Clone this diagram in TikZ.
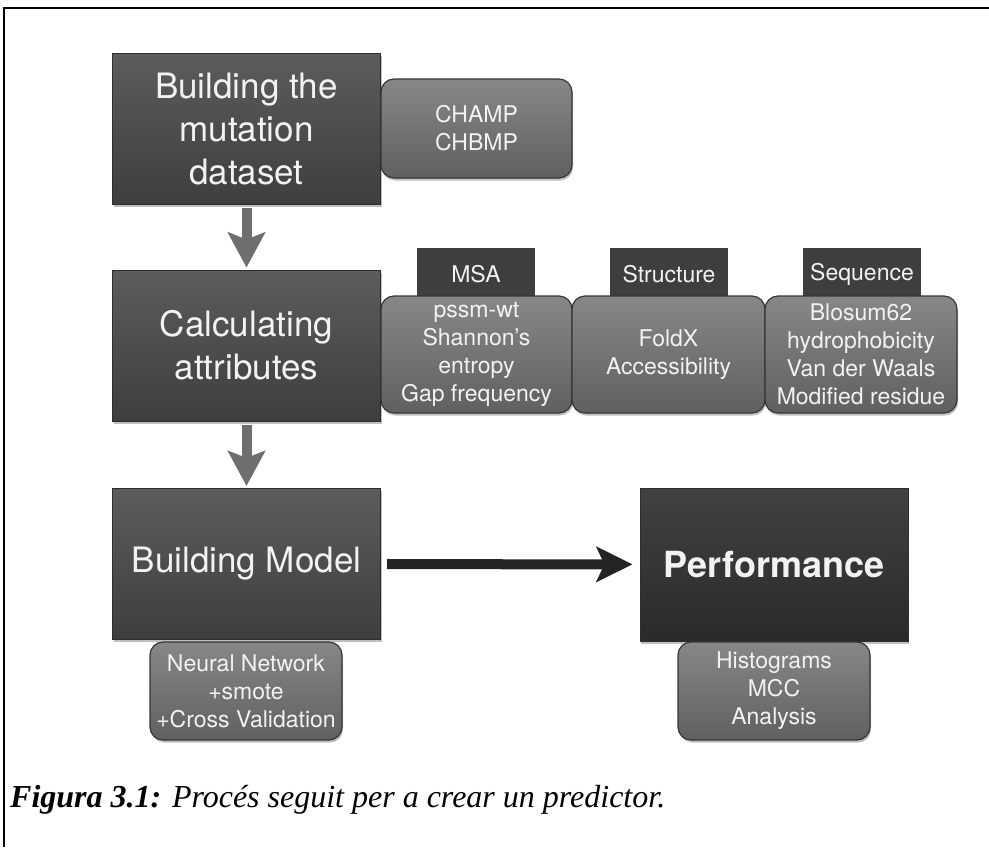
\documentclass[tikz,border=0pt]{standalone}
\usepackage{fontspec}
\setmainfont{TeX Gyre Heros}
\newfontfamily\captionfont{Liberation Serif}
\usetikzlibrary{arrows.meta,shadows}

\definecolor{stagetop}{HTML}{5C5C5C}
\definecolor{stagebottom}{HTML}{3E3E3E}
\definecolor{stageline}{HTML}{2E2E2E}
\definecolor{resulttop}{HTML}{414141}
\definecolor{resultbottom}{HTML}{2A2A2A}
\definecolor{detailtop}{HTML}{878787}
\definecolor{detailbottom}{HTML}{606060}
\definecolor{detailline}{HTML}{363636}
\definecolor{tabfill}{HTML}{3E3E3E}
\definecolor{flowgray}{HTML}{6E6E6E}
\definecolor{maindark}{HTML}{242424}
\definecolor{boxtext}{HTML}{F2F2F2}

\begin{document}
\begin{tikzpicture}[
    x=1pt, y=-1pt,
    every node/.style={align=center, inner sep=0pt, text=boxtext},
    soft shadow/.style={drop shadow={shadow xshift=1pt, shadow yshift=-2.5pt, opacity=0.25, fill=black}},
    stage/.style={draw=stageline, line width=1pt, top color=stagetop, bottom color=stagebottom,
        minimum width=268pt, minimum height=151pt, font=\fontsize{35}{43}\selectfont, soft shadow},
    result/.style={stage, top color=resulttop, bottom color=resultbottom,
        font=\fontsize{36}{43}\selectfont\bfseries},
    detail/.style={draw=detailline, line width=1.2pt, rounded corners=13pt,
        top color=detailtop, bottom color=detailbottom,
        minimum width=191pt, minimum height=99pt, font=\fontsize{23}{28}\selectfont, soft shadow},
    tab/.style={fill=tabfill, minimum width=118pt, minimum height=52pt, font=\fontsize{23}{28}\selectfont},
    flow arrow/.style={draw=flowgray, line width=10pt, shorten <=3pt, shorten >=2pt,
        -{Stealth[length=35pt, width=37pt, inset=7pt]}},
    main arrow/.style={draw=maindark, line width=10pt, shorten <=6pt, shorten >=7pt,
        -{Stealth[length=36pt, width=35pt, inset=8pt]}},
    ]
\useasboundingbox (0,0) rectangle (989,847);
% frame of the figure
\draw[line width=1.5pt] (4,847) -- (4,8) -- (989,8);

% main stages
\node[stage] (dataset) at (246.5,128.5) {Building the\\mutation\\dataset};
\node[stage] (attributes) at (246.5,345.5) {Calculating\\attributes};
\node[stage] (model) at (246.5,564) {Building Model};
\node[result, minimum height=153pt] (performance) at (774,564.5) {Performance};

% details of each stage
\node[detail] (champ) at (476.5,128.5) {CHAMP\\CHBMP};

\node[tab] (msaTab) at (476,274) {MSA};
\node[tab] (structureTab) at (669,274) {Structure};
\node[tab] (sequenceTab) at (862,274) {Sequence};
\node[detail, minimum height=117pt] (msa) at (476.5,354.5) {pssm-wt\\Shannon’s\\entropy\\Gap frequency};
\node[detail, minimum width=193pt, minimum height=117pt] (structure) at (668.5,354.5) {FoldX\\Accessibility};
\node[detail, minimum width=192pt, minimum height=117pt] (sequence) at (861,354.5) {Blosum62\\hydrophobicity\\Van der Waals\\Modified residue};

\node[detail, minimum width=192pt, minimum height=98pt] (network) at (246,691) {Neural Network\\+smote\\+Cross Validation};
\node[detail, minimum width=192pt, minimum height=98pt] (histograms) at (774,691) {Histograms\\MCC\\Analysis};

% flow between stages
\draw[flow arrow] (dataset) -- (attributes);
\draw[flow arrow] (attributes) -- (model);
\draw[main arrow] (model) -- (performance);

\node[anchor=base west, text=black, font=\captionfont\fontsize{32}{38}\selectfont] (caption) at (10,807)
    {\textbf{\textit{Figura 3.1:}} \textit{Procés seguit per a crear un predictor.}};
\end{tikzpicture}
\end{document}
